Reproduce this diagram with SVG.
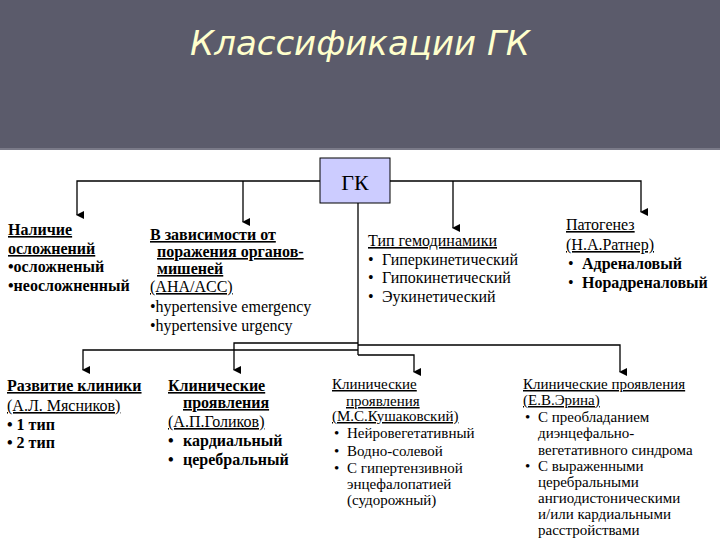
<svg xmlns="http://www.w3.org/2000/svg" width="720" height="540" viewBox="0 0 720 540" font-family="Liberation Serif, Times New Roman, Times, serif">
<defs>
<marker id="ar" markerWidth="8" markerHeight="8" refX="4" refY="7" orient="auto" markerUnits="userSpaceOnUse" viewBox="0 0 8 8"><path d="M0,0 L8,0 L4,8 Z" fill="#000"/></marker>
</defs>
<style>
.t{font-size:16px;fill:#000}
.b{font-weight:bold}
.s{font-size:15px}
.u{text-decoration:underline}
.c{fill:none;stroke:#000;stroke-width:1.3}
</style>
<rect x="0" y="0" width="720" height="150" fill="#5b5b6b"/>
<rect x="0" y="148" width="720" height="2" fill="#7a7a88"/>
<rect x="0" y="150" width="720" height="390" fill="#fff"/>
<text x="360" y="55" text-anchor="middle" font-family="DejaVu Sans, sans-serif" font-style="italic" font-size="34" fill="#ffffcc">Классификации ГК</text>
<g id="connectors">
<path class="c" d="M320,181 H77 V215" marker-end="url(#ar)"/>
<path class="c" d="M243,181 V222" marker-end="url(#ar)"/>
<path class="c" d="M390,181 H641 V212" marker-end="url(#ar)"/>
<path class="c" d="M453,181 V228" marker-end="url(#ar)"/>
<path class="c" d="M358,203 V355"/>
<path class="c" d="M358,343 H234 V370" marker-end="url(#ar)"/>
<path class="c" d="M358,350 H83 V370" marker-end="url(#ar)"/>
<path class="c" d="M358,345 H620 V372" marker-end="url(#ar)"/>
<path class="c" d="M358,355 H414 V372" marker-end="url(#ar)"/>
</g>
<g id="gk">
<rect x="320" y="158" width="70" height="45" fill="#ccccff" stroke="#000" stroke-width="1"/>
<text x="355" y="190" text-anchor="middle" font-size="22">ГК</text>
</g>
<g id="complications" class="t b">
<text x="8" y="235" class="u">Наличие</text>
<text x="8" y="254" class="u">осложнений</text>
<text x="8" y="272">•осложненый</text>
<text x="8" y="291">•неосложненный</text>
</g>
<g id="organs" class="t b">
<text x="150" y="240" class="u">В зависимости от</text>
<text x="157" y="257" class="u">поражения органов-</text>
<text x="157" y="274" class="u">мишеней</text>
<text x="150" y="292" class="u" font-weight="normal">(AHA/ACC)</text>
<text x="150" y="312" font-weight="normal">•hypertensive emergency</text>
<text x="150" y="331" font-weight="normal">•hypertensive urgency</text>
</g>
<g id="hemo" class="t">
<text x="368" y="246" class="u">Тип гемодинамики</text>
<text x="368" y="265">•</text><text x="382" y="265">Гиперкинетический</text>
<text x="368" y="283">•</text><text x="382" y="283">Гипокинетический</text>
<text x="368" y="302">•</text><text x="382" y="302">Эукинетический</text>
</g>
<g id="patho" class="t">
<text x="566" y="230" class="u">Патогенез</text>
<text x="566" y="250" class="u">(Н.А.Ратнер)</text>
<text x="568" y="269">•</text><text x="582" y="269" class="b">Адреналовый</text>
<text x="568" y="288">•</text><text x="582" y="288" class="b">Норадреналовый</text>
</g>
<g id="myasnikov" class="t b">
<text x="7" y="391" class="u">Развитие клиники</text>
<text x="7" y="411" class="u" font-weight="normal">(А.Л. Мясников)</text>
<text x="7" y="430">• 1 тип</text>
<text x="7" y="448">• 2 тип</text>
</g>
<g id="golikov" class="t b">
<text x="168" y="391" class="u">Клинические</text>
<text x="183" y="408" class="u">проявления</text>
<text x="168" y="427" class="u" font-weight="normal">(А.П.Голиков)</text>
<text x="168" y="446">•</text><text x="183" y="446">кардиальный</text>
<text x="168" y="465">•</text><text x="183" y="465">церебральный</text>
</g>
<g id="kushakovsky" class="t s">
<text x="332" y="389" class="u">Клинические</text>
<text x="346" y="406" class="u">проявления</text>
<text x="332" y="421" class="u">(М.С.Кушаковский)</text>
<text x="334" y="438">•</text><text x="347" y="438">Нейровегетативный</text>
<text x="334" y="456">•</text><text x="347" y="456">Водно-солевой</text>
<text x="334" y="473">•</text><text x="347" y="473">С гипертензивной</text>
<text x="347" y="489">энцефалопатией</text>
<text x="347" y="505">(судорожный)</text>
</g>
<g id="erina" class="t s">
<text x="523" y="389" class="u">Клинические проявления</text>
<text x="523" y="405" class="u">(Е.В.Эрина)</text>
<text x="525" y="422">•</text><text x="538" y="422">С преобладанием</text>
<text x="538" y="438">диэнцефально-</text>
<text x="538" y="455">вегетативного синдрома</text>
<text x="525" y="471">•</text><text x="538" y="471">С выраженными</text>
<text x="538" y="487">церебральными</text>
<text x="538" y="503">ангиодистоническими</text>
<text x="538" y="519">и/или кардиальными</text>
<text x="538" y="535">расстройствами</text>
</g>
</svg>
